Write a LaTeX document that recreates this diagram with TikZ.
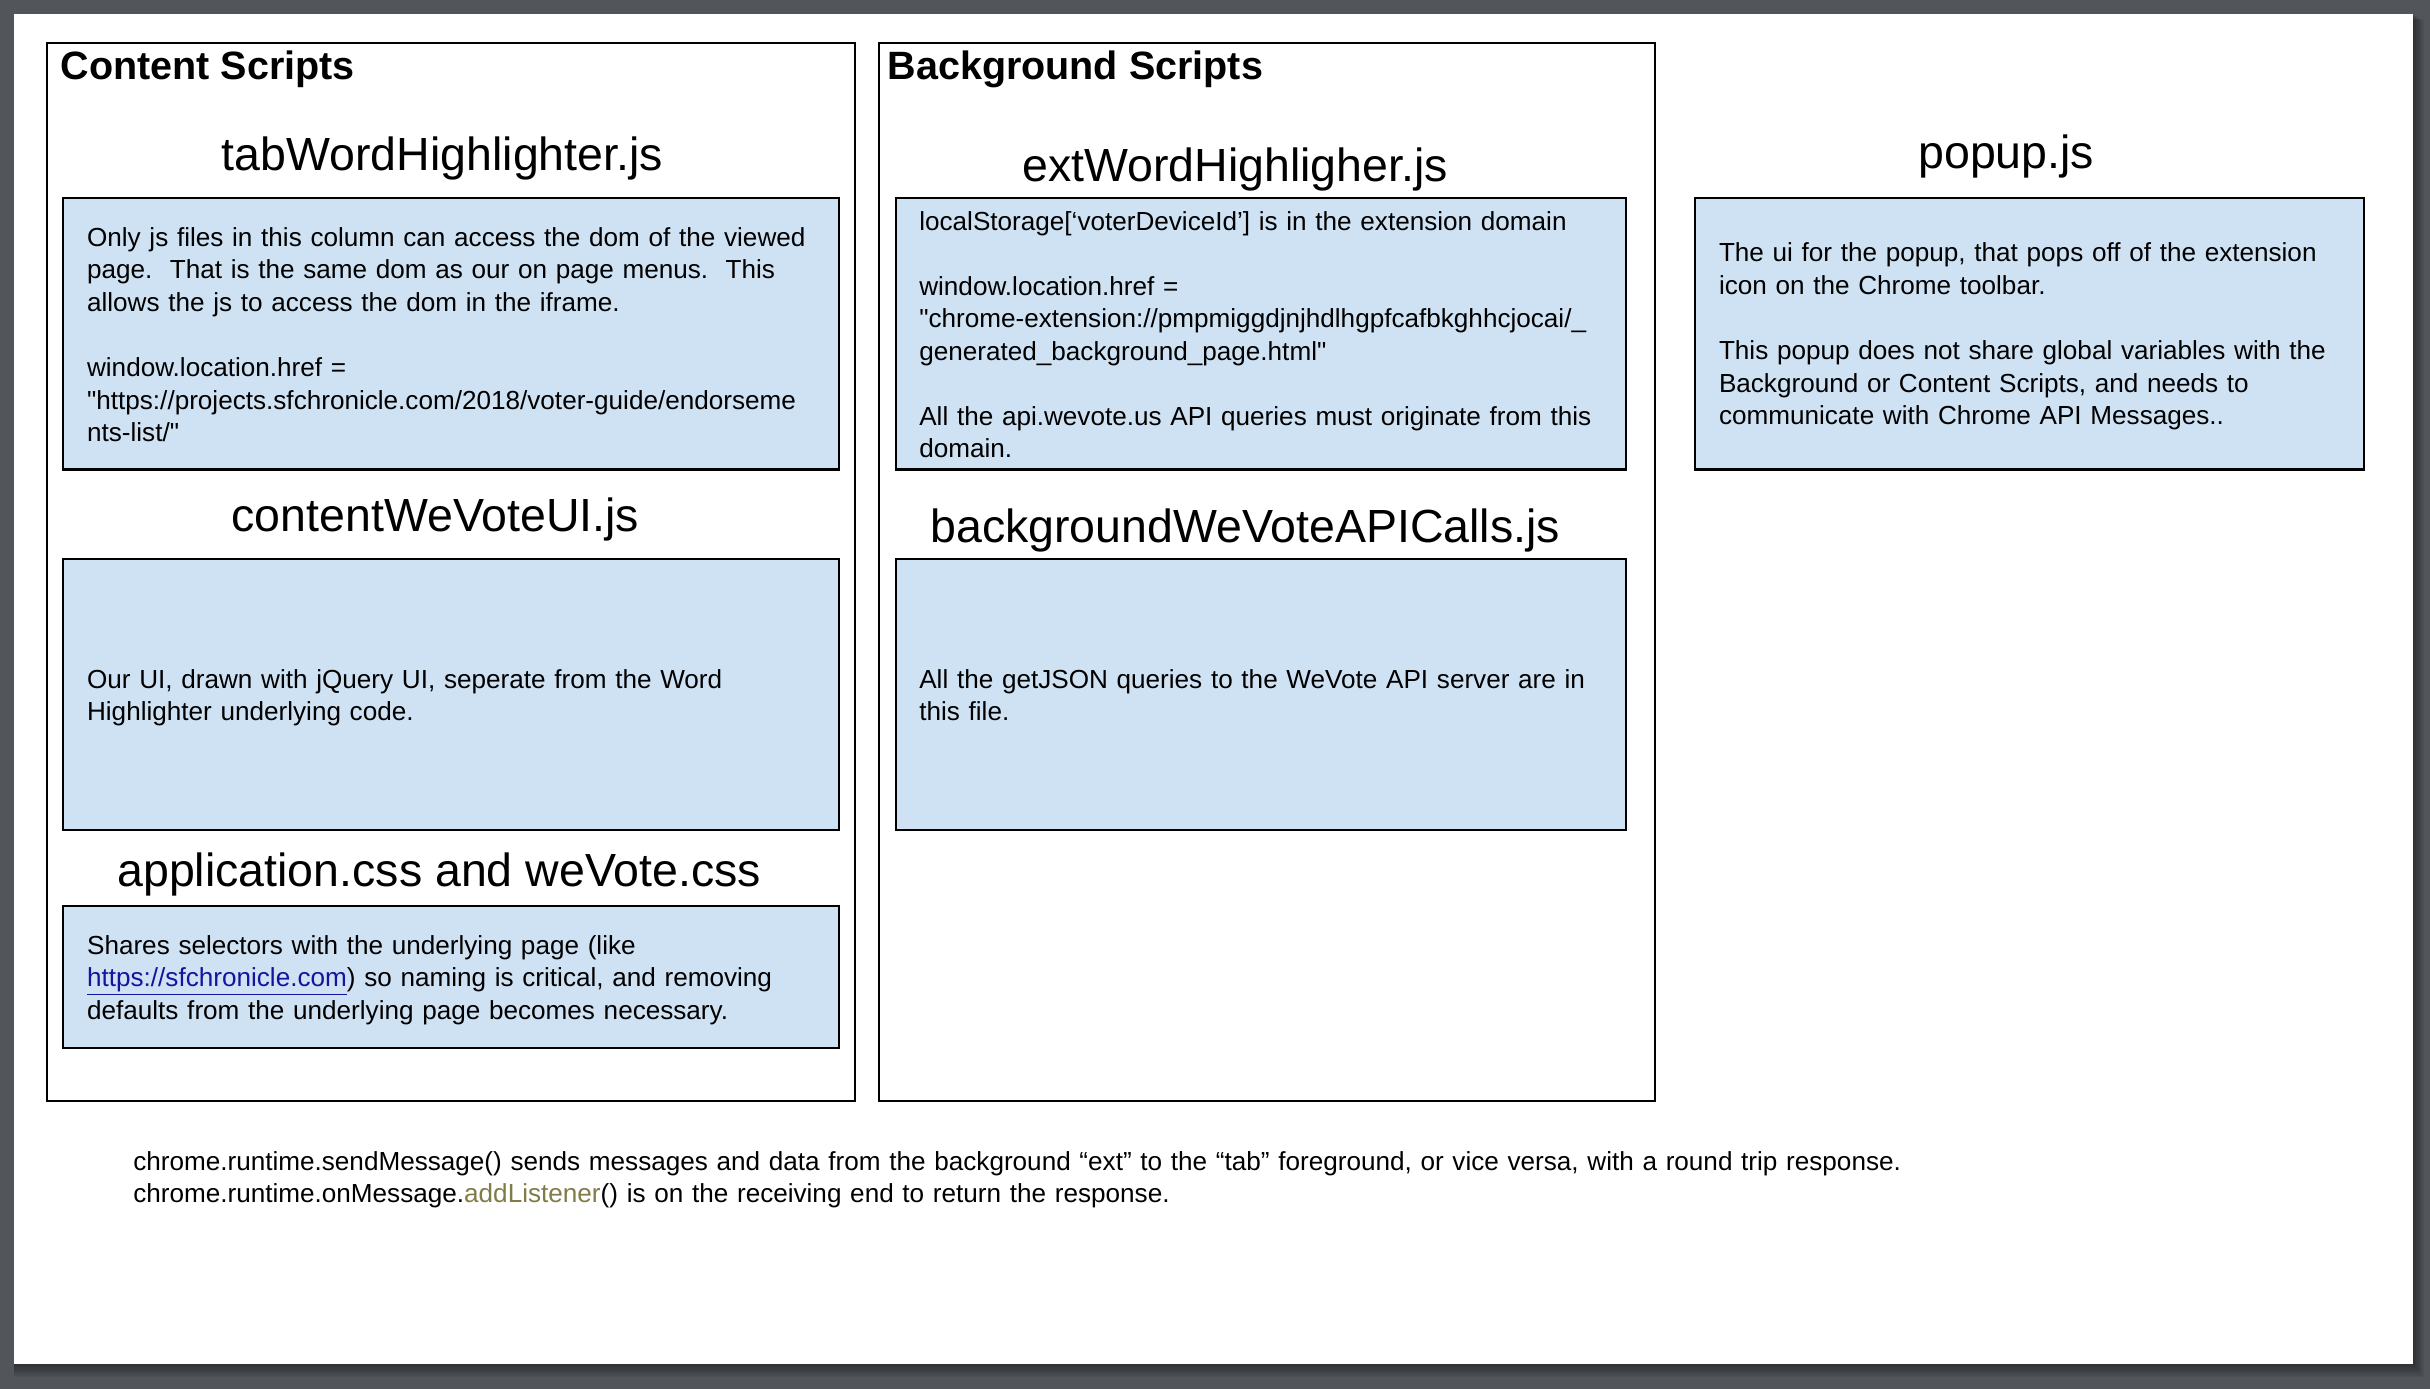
\documentclass[tikz,border=0pt]{standalone}
\usepackage{fontspec}
\setmainfont{Liberation Sans}[Ligatures=TeXOff]
\usetikzlibrary{positioning}
\definecolor{bggray}{RGB}{82,86,90}
\definecolor{boxblue}{HTML}{CFE2F3}
\definecolor{linkblue}{RGB}{20,20,160}
\definecolor{olivetext}{RGB}{128,124,72}
\newcommand{\bodyfont}{\fontsize{16.85}{21}\selectfont}
\newcommand{\titlefont}{\fontsize{30}{34}\selectfont}
\newcommand{\headfont}{\fontsize{25.5}{30}\selectfont\bfseries}
\begin{document}
\begin{tikzpicture}[x=1pt,y=-1pt,
  colbox/.style={draw=black, line width=1.3pt, fill=white, inner sep=0pt, outer sep=0pt, anchor=north west},
  bluebox/.style={draw=black, line width=1.4pt, fill=boxblue, inner sep=0pt, outer sep=0pt, anchor=north west},
  bodytext/.style={anchor=base west, inner sep=0pt, align=left, text width=#1, font=\bodyfont},
  bodytext/.default=520pt,
  titletext/.style={anchor=base, inner sep=0pt, font=\titlefont},
  headtext/.style={anchor=base west, inner sep=0pt, font=\headfont}]
\useasboundingbox (0,0) rectangle (1568,896);
\fill[bggray] (0,0) rectangle (1568,896);
\foreach \i in {1,...,8}{
  \fill[black, opacity=0.06] (9,{9+\i*0.5}) rectangle ({1557+\i*0.9},{880+\i*1.1});
}
\fill[white] (9,9) rectangle (1557,880);

% column boxes
\node[colbox, minimum width=521.6pt, minimum height=682.6pt] (colA) at (30.4,28) {};
\node[colbox, minimum width=501pt, minimum height=682.6pt] (colB) at (567,28) {};

\node[headtext] (headA) at (38.9,51.2) {Content Scripts};
\node[headtext] (headB) at (572.5,51.2) {Background Scripts};

% blue boxes
\node[bluebox, minimum width=500.8pt, minimum height=175pt] (b1) at (40.8,128) {};
\node[bluebox, minimum width=500.8pt, minimum height=175pt] (b2) at (40.8,360.6) {};
\node[bluebox, minimum width=500.8pt, minimum height=91.8pt] (b3) at (40.8,584.5) {};
\node[bluebox, minimum width=470.7pt, minimum height=175pt] (b4) at (578.3,128) {};
\node[bluebox, minimum width=470.7pt, minimum height=175pt] (b5) at (578.3,360.6) {};
\node[bluebox, minimum width=431.9pt, minimum height=175pt] (b6) at (1093.6,128) {};

% titles
\node[titletext] (t1) at (285.5,110) {tabWordHighlighter.js};
\node[titletext] (t2) at (281,343) {contentWeVoteUI.js};
\node[titletext] (t3) at (283.4,572) {application.css and weVote.css};
\node[titletext] (t4) at (797,117) {extWordHighligher.js};
\node[titletext] (t5) at (803.5,350) {backgroundWeVoteAPICalls.js};
\node[titletext] (t6) at (1294.6,108.6) {popup.js};

% texts
\node[bodytext] (x1) at (56,159) {Only js files in this column can access the dom of the viewed\\
page.\ \ That is the same dom as our on page menus.\ \ This\\
allows the js to access the dom in the iframe.\\[21pt]
window.location.href =\\
"https://projects.sfchronicle.com/2018/voter-guide/endorseme\\
nts-list/"};

\node[bodytext] (x2) at (56,444) {Our UI, drawn with jQuery UI, seperate from the Word\\
Highlighter underlying code.};

\node[bodytext] (x3) at (56,615.7) {Shares selectors with the underlying page (like\\
\textcolor{linkblue}{\underline{https://sfchronicle.com}}) so naming is critical, and removing\\
defaults from the underlying page becomes necessary.};

\node[bodytext] (x4) at (593,148.5) {localStorage[‘voterDeviceId’] is in the extension domain\\[21pt]
window.location.href =\\
"chrome-extension://pmpmiggdjnjhdlhgpfcafbkghhcjocai/\_\\
generated\_background\_page.html"\\[21pt]
All the api.wevote.us API queries must originate from this\\
domain.};

\node[bodytext] (x5) at (593,444) {All the getJSON queries to the WeVote API server are in\\
this file.};

\node[bodytext] (x6) at (1109,169) {The ui for the popup, that pops off of the extension\\
icon on the Chrome toolbar.\\[21pt]
This popup does not share global variables with the\\
Background or Content Scripts, and needs to\\
communicate with Chrome API Messages..};

\node[bodytext=1400pt] (x7) at (85.8,755) {chrome.runtime.sendMessage() sends messages and data from the background “ext” to the “tab” foreground, or vice versa, with a round trip response.\\
chrome.runtime.onMessage.\textcolor{olivetext}{addListener}() is on the receiving end to return the response.};
\end{tikzpicture}
\end{document}
